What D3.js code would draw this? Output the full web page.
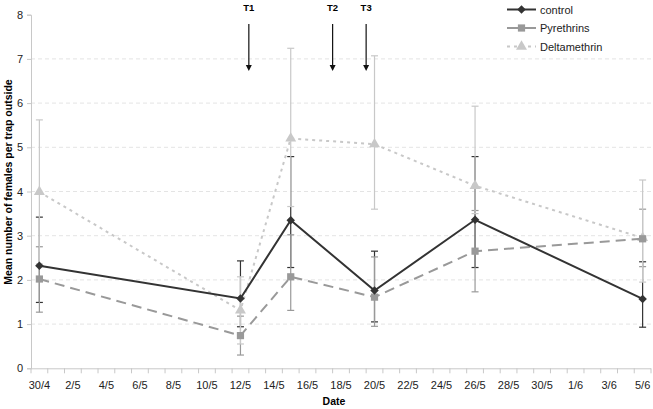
<!DOCTYPE html>
<html><head><meta charset="utf-8">
<script src="https://cdn.jsdelivr.net/npm/d3@7"></script>
<style>body{margin:0;background:#fff}svg{display:block;font-family:"Liberation Sans",Arial,sans-serif}</style>
</head><body><svg id="c" width="653" height="409"></svg>
<script>
// categories: every day from 30/4 to 5/6
const days = ["30/4","1/5","2/5","3/5","4/5","5/5","6/5","7/5","8/5","9/5","10/5","11/5","12/5","13/5","14/5","15/5","16/5","17/5","18/5","19/5","20/5","21/5","22/5","23/5","24/5","25/5","26/5","27/5","28/5","29/5","30/5","31/5","1/6","2/6","3/6","4/6","5/6"];
const tickLabels = ["30/4","2/5","4/5","6/5","8/5","10/5","12/5","14/5","16/5","18/5","20/5","22/5","24/5","26/5","28/5","30/5","1/6","3/6","5/6"];
const sampleDates = ["30/4","12/5","15/5","20/5","26/5","5/6"];
const controlVals = [2.32, 1.58, 3.35, 1.76, 3.36, 1.57];
const controlHi   = [3.42, 2.43, 4.79, 2.65, 4.79, 2.41];
const controlLo   = [1.49, 0.94, 2.28, 1.05, 2.28, 0.93];
const pyreVals = [2.02, 0.74, 2.07, 1.61, 2.65, 2.93];
const pyreHi   = [2.75, 1.18, 3.02, 2.52, 3.57, 3.60];
const pyreLo   = [1.27, 0.30, 1.31, 0.95, 1.73, 2.30];
const deltaVals = [3.99, 1.31, 5.20, 5.07, 4.13, 2.95];
const deltaHi   = [5.62, 2.07, 7.24, 7.07, 5.93, 4.26];
const deltaLo   = [2.36, 0.55, 3.66, 3.60, 3.50, 1.95];
const yTicks = [0,1,2,3,4,5,6,7,8];
const treatments = ["T1","T2","T3"];
const treatmentPos = [12.5, 17.5, 19.5]; // in days after 30/4
const seriesNames = ["control","Pyrethrins","Deltamethrin"];

const svg = d3.select("#c");
const x = d3.scaleBand().domain(days).range([31, 651]).padding(0);
const xc = d => x(d) + x.bandwidth()/2;
const xDay = d3.scaleLinear().domain([-0.5, days.length-0.5]).range([31, 651]);
const y = d3.scaleLinear().domain([0, 8]).range([368.3, 14.7]);

// gridlines
svg.append("g").selectAll("line").data(yTicks.filter(t=>t>0 && t<8)).join("line")
  .attr("x1",31).attr("x2",651).attr("y1",d=>y(d)).attr("y2",d=>y(d))
  .attr("stroke","#e4e4e4").attr("stroke-dasharray","4,3").attr("stroke-width",1);

// y axis
const yAxis = svg.append("g").attr("transform","translate(31,0)")
  .call(d3.axisLeft(y).tickValues(yTicks).tickSize(4).tickPadding(4).tickFormat(d3.format("d")));
yAxis.select(".domain").attr("stroke","#c8c8c8");
yAxis.selectAll(".tick line").attr("stroke","#c8c8c8");
yAxis.selectAll("text").attr("font-size",11).attr("fill","#222").attr("font-family","Liberation Sans, Arial, sans-serif");

// x axis (ticks at category boundaries)
const gx = svg.append("g");
gx.append("line").attr("x1",31).attr("x2",651).attr("y1",y(0)+0.5).attr("y2",y(0)+0.5).attr("stroke","#c8c8c8");
gx.selectAll("line.t").data(d3.range(days.length+1)).join("line").attr("class","t")
  .attr("x1",i=>xDay(i-0.5)).attr("x2",i=>xDay(i-0.5)).attr("y1",y(0)).attr("y2",y(0)+5).attr("stroke","#c8c8c8");
gx.selectAll("text").data(tickLabels).join("text")
  .attr("x",d=>xc(d)).attr("y",389).attr("text-anchor","middle").attr("font-size",11).attr("fill","#222").text(d=>d);

// axis titles
svg.append("text").attr("x",334).attr("y",405).attr("text-anchor","middle").attr("font-size",10.5).attr("font-weight","bold").text("Date");
svg.append("text").attr("transform","translate(12,182) rotate(-90)").attr("text-anchor","middle")
  .attr("font-size",10.5).attr("font-weight","bold").text("Mean number of females per trap outside");

const series = [
  {name:seriesNames[0], vals:controlVals, hi:controlHi, lo:controlLo, color:"#333333", dash:null, marker:"diamond"},
  {name:seriesNames[1], vals:pyreVals, hi:pyreHi, lo:pyreLo, color:"#999999", dash:"10,6", marker:"square"},
  {name:seriesNames[2], vals:deltaVals, hi:deltaHi, lo:deltaLo, color:"#c8c8c8", dash:"3,4", marker:"triangle"}
];

// error bars (control first, then pyrethrins, then deltamethrin)
series.forEach(s => {
  const g = svg.append("g").attr("stroke", s.color).attr("stroke-width",1.2);
  sampleDates.forEach((d,i) => {
    const cx = xc(d);
    g.append("line").attr("x1",cx).attr("x2",cx).attr("y1",y(s.hi[i])).attr("y2",y(s.lo[i]));
    g.append("line").attr("x1",cx-3.5).attr("x2",cx+3.5).attr("y1",y(s.hi[i])).attr("y2",y(s.hi[i]));
    g.append("line").attr("x1",cx-3.5).attr("x2",cx+3.5).attr("y1",y(s.lo[i])).attr("y2",y(s.lo[i]));
  });
});

const sym = {
  diamond: d3.symbol().type(d3.symbolDiamond2 || d3.symbolDiamond).size(60),
  square: d3.symbol().type(d3.symbolSquare).size(52),
  triangle: d3.symbol().type(d3.symbolTriangle).size(52)
};
const diamondPath = d3.symbol().type(d3.symbolSquare).size(36);

// lines + markers: deltamethrin first so darker series sit on top
[...series].reverse().forEach(s => {
  const line = d3.line().x((v,i)=>xc(sampleDates[i])).y(v=>y(v));
  svg.append("path").attr("d", line(s.vals)).attr("fill","none").attr("stroke",s.color)
    .attr("stroke-width",2).attr("stroke-dasharray",s.dash);
  svg.append("g").selectAll("path").data(s.vals).join("path")
    .attr("transform",(v,i)=>`translate(${xc(sampleDates[i])},${y(v)})` + (s.marker==="diamond"?" rotate(45)":""))
    .attr("d", s.marker==="diamond" ? diamondPath() : sym[s.marker]())
    .attr("fill",s.color);
});

// treatment arrows
const ga = svg.append("g");
treatments.forEach((t,i) => {
  const ax = xDay(treatmentPos[i]);
  ga.append("text").attr("x",ax).attr("y",11).attr("text-anchor","middle").attr("font-size",9.5).attr("font-weight","bold").text(t);
  ga.append("line").attr("x1",ax).attr("x2",ax).attr("y1",24).attr("y2",66).attr("stroke","#111").attr("stroke-width",1.2);
  ga.append("path").attr("d",`M${ax-3},${65}L${ax+3},${65}L${ax},${71}Z`).attr("fill","#111");
});

// legend
const lg = svg.append("g");
series.forEach((s,i) => {
  const ly = 9.5 + i*18.5;
  lg.append("line").attr("x1",507).attr("x2",536).attr("y1",ly).attr("y2",ly)
    .attr("stroke",s.color).attr("stroke-width",2).attr("stroke-dasharray", s.marker==="triangle" ? "3,4" : null);
  lg.append("path").attr("transform",`translate(521.5,${ly})` + (s.marker==="diamond"?" rotate(45)":""))
    .attr("d", s.marker==="diamond" ? diamondPath() : sym[s.marker]()).attr("fill",s.color);
  lg.append("text").attr("x",540).attr("y",ly+4).attr("font-size",11).attr("fill","#222").text(s.name);
});
</script></body></html>
